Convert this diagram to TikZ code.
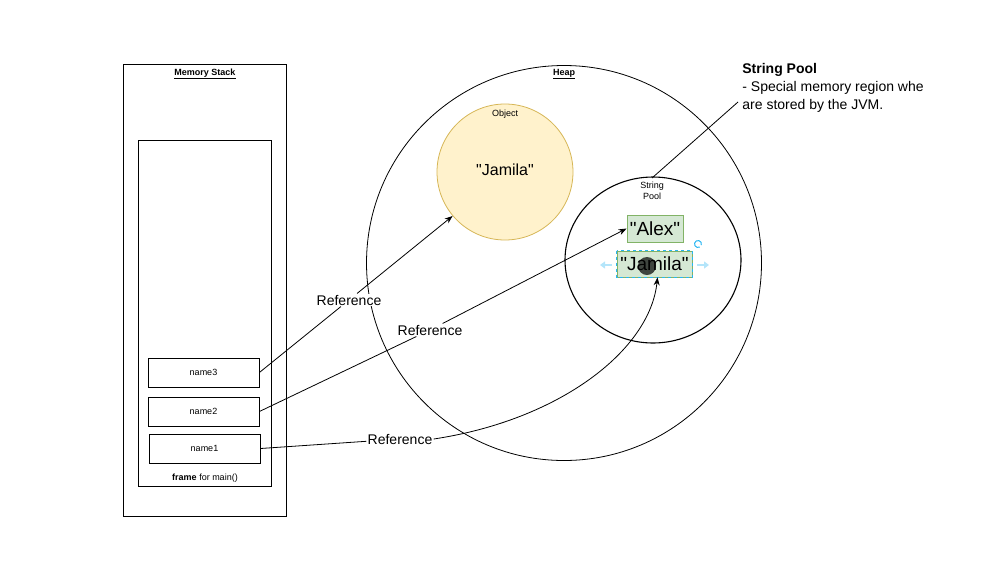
\documentclass[tikz,border=0pt]{standalone}
\usepackage{fontspec}
\setmainfont{Liberation Sans}[Ligatures=TeXOff]
\usetikzlibrary{positioning}
\usetikzlibrary{arrows.meta}
\definecolor{objfill}{HTML}{FFF2CC}
\definecolor{objline}{HTML}{D6B656}
\definecolor{poolfill}{HTML}{D5E8D4}
\definecolor{poolline}{HTML}{82B366}
\definecolor{selblue}{HTML}{29B6F2}

\begin{document}
\begin{tikzpicture}[x=1pt,y=-1pt,line width=0.8pt,
  small/.style={font=\fontsize{9}{11}\selectfont},
  varbox/.style={draw, minimum width=111pt, minimum height=29pt, inner sep=0pt, small},
  strbox/.style={draw=poolline, fill=poolfill, inner sep=0pt, font=\fontsize{19}{21}\selectfont},
  reflabel/.style={fill=white, inner sep=1pt, font=\fontsize{14}{16}\selectfont},
  refarrow/.style={-{Stealth[length=8pt,width=6pt]}}]

\useasboundingbox (0,0) rectangle (982,563);

%\draw[gray,very thin, step=50, opacity=0.5] (0,0) grid (982,563);

% stack
\draw (123,64) rectangle (286,516);
\node[small] (stacktitle) at (205,74) {\textbf{\underline{Memory Stack}}};
\draw (138,140) rectangle (271,486);
\node[small] (frametitle) at (205,478) {\textbf{frame} for main()};

\node[varbox] (name3) at (203.5,372.5) {name3};
\node[varbox] (name2) at (203.5,411.5) {name2};
\node[varbox] (name1) at (204.5,448.5) {name1};

% heap
\node[draw, circle, minimum size=395pt, inner sep=0pt] (heap) at (564,263) {};
\node[small] (heaptitle) at (564,74) {\textbf{\underline{Heap}}};

\node[circle, draw=objline, fill=objfill, minimum size=136pt, inner sep=0pt] (obj) at (505,172) {};
\node[small] (objtitle) at (505,114) {Object};
\node[font=\fontsize{16}{18}\selectfont] (objtext) at (505,170) {"Jamila"};

% string pool
\draw[line width=1.1pt] (653,260) ellipse [x radius=88, y radius=83];
\node[small, align=center] (pooltitle) at (652,190.5) {String\\Pool};

\node[strbox, minimum width=56pt, minimum height=27pt] (alex) at (655,228.5) {"Alex"};
\node[strbox, minimum width=75pt, minimum height=26pt] (jam) at (654.5,264) {"Jamila"};
\draw[selblue, dashed, line width=0.5pt] (jam.north west) rectangle (jam.south east);

% note
\node[anchor=north west, align=left, inner sep=0pt, font=\fontsize{14}{18}\selectfont] (note) at (742,63) {\textbf{String Pool}\\- Special memory region whe\\are stored by the JVM.};
\coordinate (pooltop) at (652,178);
\coordinate (noteend) at (738,102);
\draw (pooltop) -- (noteend);

% references
\node[reflabel] (ref1) at (349,300) {Reference};
\node[reflabel] (ref2) at (430,330) {Reference};
\node[reflabel] (ref3) at (400,439) {Reference};

\draw (name3.east) -- (ref1);
\draw[refarrow] (ref1) -- (obj.220);
\draw (name2.east) -- (ref2);
\draw[refarrow] (ref2) -- (alex.west);
\draw (name1.east) -- (ref3);
\draw[refarrow] (ref3.east) .. controls (560,420) and (650,350) .. ([xshift=3pt]jam.south);

% selection handles
\draw[selblue!35, line width=2pt, -{Triangle[length=5pt,width=7pt]}] (612,265) -- (600,265);
\draw[selblue!35, line width=2pt, -{Triangle[length=5pt,width=7pt]}] (697,265) -- (709,265);
\draw[selblue, line width=1pt] (698,244) ++(60:3.5) arc [start angle=60, end angle=380, radius=3.5];
\fill[black, opacity=0.7] (647,266) circle (9);

\end{tikzpicture}
\end{document}
